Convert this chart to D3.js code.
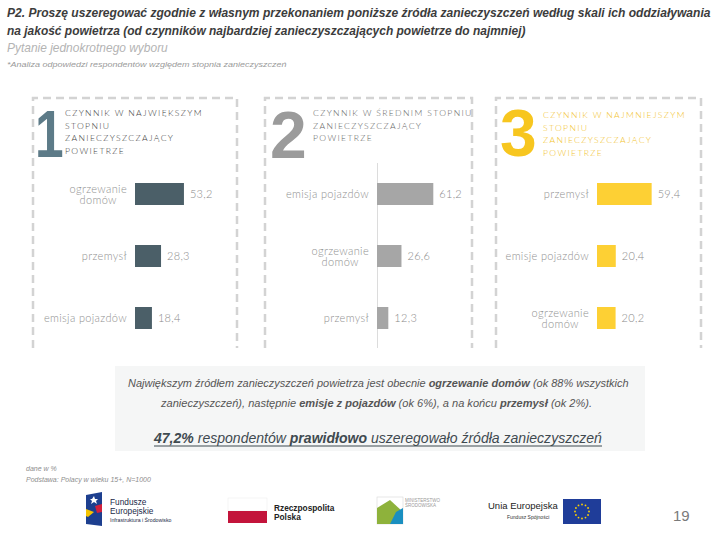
<!DOCTYPE html>
<html>
<head>
<meta charset="utf-8">
<script src="https://cdn.jsdelivr.net/npm/d3@7"></script>
<style>
  html, body { margin: 0; padding: 0; background: #fff; }
  svg { display: block; }
</style>
</head>
<body>
<svg id="chart" width="720" height="540"></svg>
<script>
// ---------- DATA ----------
const titleLines = [
  "P2. Proszę uszeregować zgodnie z własnym przekonaniem poniższe źródła zanieczyszczeń według skali ich oddziaływania",
  "na jakość powietrza (od czynników najbardziej zanieczyszczających powietrze do najmniej)"
];
const subtitle = "Pytanie jednokrotnego wyboru";
const note = "*Analiza odpowiedzi respondentów względem stopnia zanieczyszczeń";

const rankNumbers = ["1", "2", "3"];
const rankHeadings = [
  ["CZYNNIK W NAJWIĘKSZYM", "STOPNIU", "ZANIECZYSZCZAJĄCY", "POWIETRZE"],
  ["CZYNNIK W ŚREDNIM STOPNIU", "ZANIECZYSZCZAJĄCY", "POWIETRZE"],
  ["CZYNNIK W NAJMNIEJSZYM", "STOPNIU", "ZANIECZYSZCZAJĄCY", "POWIETRZE"]
];

const categories1 = ["ogrzewanie\ndomów", "przemysł", "emisja pojazdów"];
const values1 = [53.2, 28.3, 18.4];
const categories2 = ["emisja pojazdów", "ogrzewanie\ndomów", "przemysł"];
const values2 = [61.2, 26.6, 12.3];
const categories3 = ["przemysł", "emisje pojazdów", "ogrzewanie\ndomów"];
const values3 = [59.4, 20.4, 20.2];

const summaryLine1 = [["Największym źródłem zanieczyszczeń powietrza jest obecnie ", false], ["ogrzewanie domów", true], [" (ok 88% wszystkich", false]];
const summaryLine2 = [["zanieczyszczeń), następnie ", false], ["emisje z pojazdów", true], [" (ok 6%), a na końcu ", false], ["przemysł", true], [" (ok 2%).", false]];
const summaryLine3 = [["47,2%", true], [" respondentów ", false], ["prawidłowo", true], [" uszeregowało źródła zanieczyszczeń", false]];

const footNotes = ["dane w %", "Podstawa: Polacy w wieku 15+, N=1000"];
const pageNumber = "19";

// ---------- LAYOUT / STYLE ----------
const svg = d3.select("#chart");
const fmt = v => d3.format(".1f")(v).replace(".", ",");

// fit a text horizontally to a target width by scaling (keeps bbox within target)
function fitText(sel, x0, y0, width) {
  const w = sel.node().getComputedTextLength();
  sel.attr("x", 0).attr("y", 0)
    .attr("transform", `translate(${x0},${y0}) scale(${width / w},1)`);
  return sel;
}

const panelCfg = [
  { cats: categories1, vals: values1, left: 33, right: 237, barX: 135, numT: "translate(35,157) scale(0.78,1)", headX: 65, headY: 116,
    bar: "#4b5f68", num: "#5d7b88", head: "#444", axis: false },
  { cats: categories2, vals: values2, left: 265, right: 472, barX: 377, numT: "translate(270,158)", headX: 313, headY: 116,
    bar: "#a6a6a6", num: "#9b9b9b", head: "#666", axis: true },
  { cats: categories3, vals: values3, left: 496, right: 701, barX: 597, numT: "translate(500,156)", headX: 543, headY: 118,
    bar: "#fdd034", num: "#f7c61f", head: "#f2c32e", axis: false }
];

// ---------- TITLE ----------
fitText(svg.append("text")
  .attr("font-family", "'Liberation Sans Narrow','Liberation Sans',Arial,sans-serif")
  .attr("font-size", 13).attr("font-weight", "bold").attr("font-style", "italic")
  .attr("fill", "#3c3c3c").text(titleLines[0]), 7, 17, 704);
fitText(svg.append("text")
  .attr("font-family", "'Liberation Sans Narrow','Liberation Sans',Arial,sans-serif")
  .attr("font-size", 13).attr("font-weight", "bold").attr("font-style", "italic")
  .attr("fill", "#3c3c3c").text(titleLines[1]), 7, 35, 519);
fitText(svg.append("text")
  .attr("font-family", "'Liberation Sans Narrow','Liberation Sans',Arial,sans-serif")
  .attr("font-size", 12.5).attr("font-style", "italic")
  .attr("fill", "#b4b4b4").text(subtitle), 7, 51.5, 161);
fitText(svg.append("text")
  .attr("font-family", "'Liberation Sans','Arial',sans-serif")
  .attr("font-size", 6.5).attr("font-style", "italic")
  .attr("fill", "#9a9a9a").text(note), 7, 67, 280);

// ---------- PANELS ----------
const x = d3.scaleLinear().domain([0, 100]).range([0, 92]);

panelCfg.forEach((p, i) => {
  const g = svg.append("g");
  const y = d3.scalePoint().domain(p.cats).range([194, 318]);
  const barH = 22;

  // dashed frame (top, left, right)
  g.append("path")
    .attr("d", `M${p.left},348 L${p.left},98 L${p.right},98 L${p.right},348`)
    .attr("fill", "none").attr("stroke", "#d3d3d3").attr("stroke-width", 2.5)
    .attr("stroke-dasharray", "8,5");

  // big number
  g.append("text").attr("transform", p.numT)
    .attr("font-family", "'Liberation Sans',Arial,sans-serif").attr("font-weight", "bold")
    .attr("font-size", 66).attr("fill", p.num).text(rankNumbers[i]);

  // heading
  const ht = g.append("text")
    .attr("font-family", "Lato,'Open Sans',sans-serif").attr("font-size", 8.6).attr("font-weight", 300)
    .attr("letter-spacing", 1.35).attr("fill", p.head);
  rankHeadings[i].forEach((line, k) => {
    ht.append("tspan").attr("x", p.headX).attr("y", p.headY + k * 12.5).text(line);
  });

  // axis line
  if (p.axis) {
    g.append("line").attr("x1", p.barX + 0.5).attr("x2", p.barX + 0.5)
      .attr("y1", 163).attr("y2", 348).attr("stroke", "#dcdcdc").attr("stroke-width", 1);
  }

  const rows = p.cats.map((c, j) => ({ c, v: p.vals[j] }));

  // bars
  g.selectAll("rect.bar").data(rows).join("rect").attr("class", "bar")
    .attr("x", p.barX).attr("y", d => y(d.c) - barH / 2)
    .attr("width", d => x(d.v)).attr("height", barH).attr("fill", p.bar);

  // values
  g.selectAll("text.val").data(rows).join("text").attr("class", "val")
    .attr("x", d => p.barX + x(d.v) + 6).attr("y", d => y(d.c) + 4)
    .attr("font-family", "Lato,'Open Sans',sans-serif").attr("font-size", 11).attr("font-weight", 300)
    .attr("letter-spacing", 0.3).attr("fill", "#8a8a8a").text(d => fmt(d.v));

  // category labels
  const labelRight = p.barX - 8;
  rows.forEach(d => {
    const lines = d.c.split("\n");
    const t = g.append("text")
      .attr("font-family", "Lato,'Open Sans',sans-serif").attr("font-size", 11).attr("font-weight", 300)
      .attr("letter-spacing", 0.35).attr("fill", "#909090");
    if (lines.length === 1) {
      t.attr("text-anchor", "end").attr("x", labelRight).attr("y", y(d.c) + 4).text(lines[0]);
    } else {
      t.attr("text-anchor", "middle");
      lines.forEach((ln, k) => {
        t.append("tspan").attr("x", 0).attr("y", y(d.c) - 1.5 + k * 11.5).text(ln);
      });
      const w = t.node().getBBox().width;
      t.selectAll("tspan").attr("x", labelRight - w / 2);
    }
  });
});

// ---------- SUMMARY BOX ----------
svg.append("rect").attr("x", 115).attr("y", 366).attr("width", 530).attr("height", 85)
  .attr("fill", "#f5f6f6");

function richLine(parts, yPos, size, color, len, x0) {
  const t = svg.append("text")
    .attr("font-family", "'Liberation Sans',Arial,sans-serif").attr("font-size", size)
    .attr("font-style", "italic").attr("fill", color);
  parts.forEach(([s, b]) => {
    t.append("tspan").attr("font-weight", b ? "bold" : "normal").text(s);
  });
  return fitText(t, x0, yPos, len);
}
richLine(summaryLine1, 387, 10.5, "#555", 501, 128);
richLine(summaryLine2, 407, 10.5, "#555", 432, 161);
richLine(summaryLine3, 443, 14, "#3f4a50", 448, 154);
svg.append("line").attr("x1", 154).attr("x2", 602).attr("y1", 446).attr("y2", 446)
  .attr("stroke", "#3f4a50").attr("stroke-width", 1.2);

// ---------- FOOTNOTES ----------
footNotes.forEach((s, k) => {
  svg.append("text").attr("x", 26).attr("y", 471 + k * 10.5)
    .attr("font-family", "'Liberation Sans',Arial,sans-serif").attr("font-size", 7)
    .attr("font-style", "italic").attr("fill", "#8e8e8e").text(s);
});

// ---------- LOGOS ----------
const lg = svg.append("g");
// Fundusze Europejskie
lg.append("path").attr("d", "M86,495 L102,492 L102,526 L86,524 Z").attr("fill", "#1d3f8f");
lg.append("path").attr("d", "M92,499 L94,496 L95,499 L98,499 L96,501 L97,504 L94,502 L91,504 L92,501 L90,499 Z").attr("fill", "#fff");
lg.append("path").attr("d", "M86,509 L94,512 L88,517 L86,516 Z").attr("fill", "#f6c400");
lg.append("path").attr("d", "M95,506 L102,504 L102,512 L97,513 Z").attr("fill", "#d3203c");
lg.append("text").attr("x", 110).attr("y", 505).attr("font-family", "'Liberation Sans',Arial,sans-serif")
  .attr("font-size", 8.3).attr("fill", "#1b2a48").text("Fundusze");
lg.append("text").attr("x", 110).attr("y", 513.5).attr("font-family", "'Liberation Sans',Arial,sans-serif")
  .attr("font-size", 8.3).attr("fill", "#1b2a48").text("Europejskie");
lg.append("text").attr("x", 110).attr("y", 521.5).attr("font-family", "'Liberation Sans',Arial,sans-serif")
  .attr("font-size", 5.2).attr("fill", "#1b2a48").text("Infrastruktura i Środowisko");
// Rzeczpospolita Polska
lg.append("rect").attr("x", 228).attr("y", 498).attr("width", 39).attr("height", 13)
  .attr("fill", "#fff").attr("stroke", "#eee").attr("stroke-width", 0.6);
lg.append("rect").attr("x", 228).attr("y", 511).attr("width", 39).attr("height", 12).attr("fill", "#c3143b");
lg.append("text").attr("x", 274).attr("y", 511).attr("font-family", "'Liberation Sans',Arial,sans-serif")
  .attr("font-size", 8.3).attr("font-weight", "bold").attr("fill", "#222").text("Rzeczpospolita");
lg.append("text").attr("x", 274).attr("y", 519.5).attr("font-family", "'Liberation Sans',Arial,sans-serif")
  .attr("font-size", 8.3).attr("font-weight", "bold").attr("fill", "#222").text("Polska");
// Ministerstwo Środowiska
lg.append("rect").attr("x", 377).attr("y", 497).attr("width", 26).attr("height", 27)
  .attr("fill", "#fff").attr("stroke", "#d8d8d8").attr("stroke-width", 0.6);
lg.append("path").attr("d", "M377,524 L377,508 L390,500 L403,512 L403,524 Z").attr("fill", "#8eb23b");
lg.append("path").attr("d", "M390,524 L396,512 L403,508 L403,524 Z").attr("fill", "#1a8fc0");
lg.append("text").attr("x", 405).attr("y", 502).attr("font-family", "'Liberation Sans',Arial,sans-serif")
  .attr("font-size", 4.5).attr("fill", "#999").text("MINISTERSTWO");
lg.append("text").attr("x", 405).attr("y", 507).attr("font-family", "'Liberation Sans',Arial,sans-serif")
  .attr("font-size", 4.5).attr("fill", "#999").text("ŚRODOWISKA");
// Unia Europejska
lg.append("text").attr("x", 488).attr("y", 509).attr("font-family", "'Liberation Sans',Arial,sans-serif")
  .attr("font-size", 9.5).attr("fill", "#222").text("Unia Europejska");
lg.append("text").attr("x", 507).attr("y", 519).attr("font-family", "'Liberation Sans',Arial,sans-serif")
  .attr("font-size", 5).attr("fill", "#333").text("Fundusz Spójności");
lg.append("rect").attr("x", 563).attr("y", 499).attr("width", 38).attr("height", 25).attr("fill", "#1f3d99");
d3.range(12).forEach(k => {
  const a = k / 12 * 2 * Math.PI;
  lg.append("circle").attr("cx", 582 + 7 * Math.cos(a)).attr("cy", 511.5 + 7 * Math.sin(a))
    .attr("r", 0.9).attr("fill", "#ffd200");
});
// page number
svg.append("text").attr("x", 673).attr("y", 521).attr("font-family", "'Liberation Sans',Arial,sans-serif")
  .attr("font-size", 15).attr("fill", "#7a7a7a").text(pageNumber);
</script>
</body>
</html>
